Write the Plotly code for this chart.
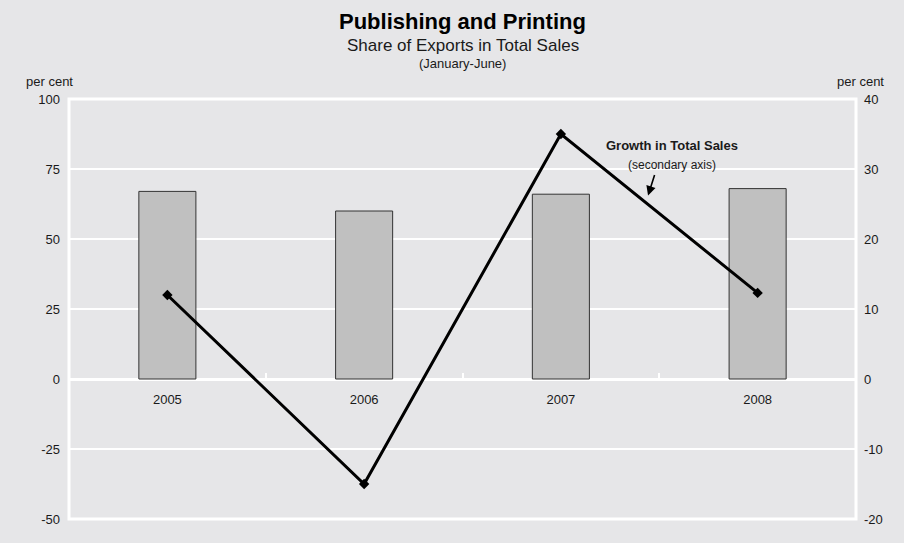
import plotly.graph_objects as go

# Publishing and Printing: export share (bars, left axis) and sales growth (line, right axis)
years = ["2005", "2006", "2007", "2008"]
export_share = [67, 60, 66, 68]          # per cent of total sales
sales_growth = [12, -15, 35, 12.3]       # per cent, secondary axis

left_ticks = [-50, -25, 0, 25, 50, 75, 100]
right_ticks = [-20, -10, 0, 10, 20, 30, 40]

BG = "#e6e6e8"
FONT = "Liberation Sans, Arial, Helvetica, sans-serif"

fig = go.Figure()

fig.add_trace(go.Bar(
    x=years, y=export_share,
    width=0.29,
    marker=dict(color="#c0c0c0", line=dict(color="#333333", width=1)),
    yaxis="y", showlegend=False,
))

fig.add_trace(go.Scatter(
    x=years, y=sales_growth,
    mode="lines+markers",
    line=dict(color="#000000", width=3),
    marker=dict(symbol="diamond", size=8, color="#000000"),
    yaxis="y2", showlegend=False, cliponaxis=False,
))

fig.update_layout(
    width=904, height=543,
    margin=dict(l=69, r=48, t=99, b=24),
    paper_bgcolor=BG, plot_bgcolor=BG,
    font=dict(family=FONT, size=13, color="#1a1a1a"),
    bargap=0.7,
    xaxis=dict(
        type="category", range=[-0.5, 3.5],
        anchor="free", position=1 / 3,
        showgrid=False, zeroline=False, showline=False,
        ticks="inside", tickson="boundaries", ticklen=6, tickwidth=2,
        tickcolor="white", ticklabelstandoff=11,
        tickfont=dict(size=13, color="#1a1a1a"),
    ),
    yaxis=dict(
        range=[-50, 100], tickvals=left_ticks,
        ticktext=[str(v) for v in left_ticks],
        showgrid=True, gridcolor="white", gridwidth=2,
        zeroline=True, zerolinecolor="white", zerolinewidth=3,
        showline=False, ticks="", ticklabelstandoff=8,
        tickfont=dict(size=13, color="#1a1a1a"),
    ),
    yaxis2=dict(
        range=[-20, 40], tickvals=right_ticks,
        ticktext=[str(v) for v in right_ticks],
        overlaying="y", side="right",
        showgrid=False, zeroline=False, showline=False, ticks="",
        ticklabelstandoff=7,
        tickfont=dict(size=13, color="#1a1a1a"),
    ),
)

# white frame around the plotting area
fig.add_shape(type="rect", xref="paper", yref="paper", x0=0, x1=1, y0=0, y1=1,
              line=dict(color="white", width=3), layer="below")

# titles
fig.add_annotation(text="<b>Publishing and Printing</b>", xref="paper", yref="paper",
                   x=0.5, y=1.0, yshift=78, showarrow=False, yanchor="middle",
                   font=dict(size=22, color="#000000"))
fig.add_annotation(text="Share of Exports in Total Sales", xref="paper", yref="paper",
                   x=0.5, y=1.0, yshift=54, showarrow=False, yanchor="middle",
                   font=dict(size=17, color="#1a1a1a"))
fig.add_annotation(text="(January-June)", xref="paper", yref="paper",
                   x=0.5, y=1.0, yshift=36, showarrow=False, yanchor="middle",
                   font=dict(size=13, color="#1a1a1a"))

# axis unit labels
fig.add_annotation(text="per cent", xref="paper", yref="paper",
                   x=0, y=1.0, xshift=-20, yshift=18, showarrow=False,
                   xanchor="center", yanchor="middle", font=dict(size=13))
fig.add_annotation(text="per cent", xref="paper", yref="paper",
                   x=1, y=1.0, xshift=4, yshift=18, showarrow=False,
                   xanchor="center", yanchor="middle", font=dict(size=13))

# line label with pointer
fig.add_annotation(text="<b>Growth in Total Sales</b>", xref="x", yref="y",
                   x=2.565, y=83.5, showarrow=False, yanchor="middle",
                   font=dict(size=13, color="#1a1a1a"))
fig.add_annotation(text="(secondary axis)", xref="x", yref="y",
                   x=2.565, y=76.5, showarrow=False, yanchor="middle",
                   font=dict(size=12, color="#1a1a1a"))
fig.add_annotation(text="", xref="x", yref="y", x=2.443, y=65.5,
                   ax=7, ay=-22, showarrow=True, arrowhead=2, arrowsize=1.2,
                   arrowwidth=1.6, arrowcolor="#000000")

fig.write_html("out.html")
